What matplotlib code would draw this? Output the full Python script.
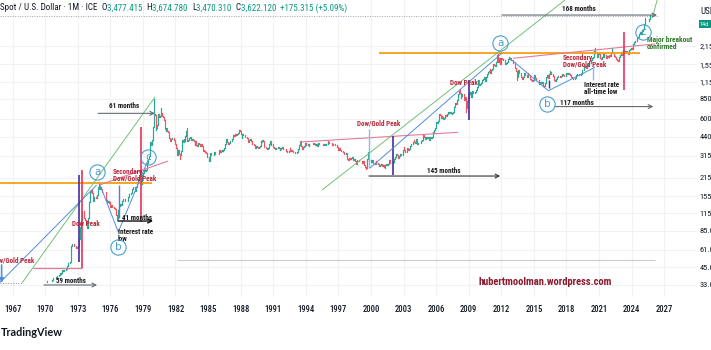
import numpy as np
import matplotlib
matplotlib.use("Agg")
import matplotlib.pyplot as plt
from matplotlib import font_manager
from matplotlib.ticker import NullLocator

# -----------------------------
# Daten: Gold Spot / USD, Monatsschluss (ab Jan 1970)
# -----------------------------
first_year = 1970
first_open = 35.0

closes_1970s = [
    34.9, 35.0, 35.1, 35.6, 35.5, 35.4, 35.3, 35.4, 36.2, 37.5, 37.4, 37.4,
    37.9, 38.7, 38.9, 39.0, 40.5, 40.1, 41.0, 42.7, 42.0, 42.5, 42.9, 43.6,
    46.0, 48.3, 48.3, 49.0, 56.5, 65.0, 67.0, 67.0, 65.5, 64.9, 62.9, 63.9,
    65.1, 74.2, 84.4, 90.5, 102.0, 120.0, 120.0, 106.8, 103.0, 100.1, 90.0, 106.7,
    139.3, 150.0, 168.4, 172.2, 163.3, 143.0, 154.1, 154.6, 151.8, 158.8, 181.8, 186.5,
    175.8, 181.8, 177.3, 167.0, 167.0, 166.3, 166.7, 144.5, 141.3, 142.9, 138.8, 140.3,
    128.2, 132.3, 129.6, 128.4, 125.9, 123.8, 112.5, 104.0, 117.0, 123.2, 130.3, 134.5,
    132.3, 142.8, 149.2, 148.0, 143.5, 143.0, 144.1, 146.0, 154.0, 162.0, 161.0, 164.9,
    175.8, 182.3, 181.6, 170.9, 184.0, 183.0, 200.3, 208.7, 217.1, 242.6, 193.4, 226.0,
    233.7, 251.3, 240.1, 245.3, 274.6, 277.5, 296.5, 315.1, 397.3, 382.0, 415.7, 524.0,
]
closes_1980s = [
    653.0, 637.0, 494.5, 514.0, 535.5, 653.0, 614.3, 631.3, 666.8, 629.0, 619.8, 589.8,
    506.5, 489.0, 513.8, 482.8, 479.7, 426.0, 406.0, 425.0, 428.8, 427.0, 414.5, 400.0,
    387.0, 362.6, 320.0, 350.3, 325.5, 317.5, 342.9, 411.5, 397.0, 423.3, 409.5, 448.0,
    481.0, 408.5, 414.8, 429.3, 437.5, 416.0, 422.0, 414.3, 405.0, 382.0, 405.0, 382.4,
    373.8, 394.3, 388.5, 373.0, 384.8, 373.8, 342.4, 348.3, 343.8, 333.5, 329.0, 309.0,
    306.7, 287.8, 329.8, 321.4, 316.3, 317.8, 326.9, 333.3, 326.0, 325.3, 325.3, 326.8,
    345.5, 338.8, 344.0, 345.8, 343.2, 345.5, 357.5, 384.7, 423.2, 401.0, 383.5, 390.9,
    405.5, 405.9, 421.2, 453.3, 451.0, 447.3, 462.5, 453.4, 459.5, 468.8, 492.5, 486.5,
    458.0, 426.2, 456.9, 451.4, 451.3, 436.6, 436.6, 430.0, 397.7, 412.4, 422.6, 410.2,
    394.0, 387.0, 383.2, 378.0, 362.6, 373.0, 368.3, 359.8, 366.5, 376.0, 407.8, 401.0,
]
closes_1990s = [
    415.1, 407.7, 368.5, 367.8, 363.1, 352.2, 362.5, 387.8, 408.4, 379.5, 384.9, 386.2,
    366.0, 362.7, 355.7, 357.8, 360.4, 368.4, 362.9, 347.4, 354.9, 357.5, 366.3, 353.2,
    354.1, 353.1, 341.7, 336.4, 337.5, 343.4, 357.8, 340.0, 349.0, 339.3, 334.2, 333.3,
    329.0, 327.6, 337.8, 354.3, 377.5, 378.0, 406.5, 371.6, 355.5, 369.6, 370.9, 391.8,
    377.9, 381.6, 389.2, 376.5, 387.6, 385.8, 384.0, 385.8, 394.9, 389.1, 383.1, 383.3,
    374.9, 376.4, 392.0, 389.8, 385.3, 387.1, 383.4, 382.4, 384.0, 382.7, 387.8, 387.0,
    405.6, 400.7, 396.4, 392.9, 390.6, 382.0, 385.3, 386.5, 379.0, 379.5, 371.3, 369.3,
    345.5, 358.6, 348.2, 340.2, 344.8, 334.6, 326.4, 325.4, 332.1, 311.4, 296.8, 290.2,
    304.9, 297.4, 301.0, 310.7, 293.6, 296.3, 288.9, 273.4, 293.9, 292.3, 294.7, 287.8,
    287.1, 287.3, 279.5, 286.6, 268.6, 261.0, 255.6, 254.8, 299.0, 299.1, 291.4, 290.3,
]
closes_2000s = [
    283.3, 293.7, 276.8, 275.1, 272.3, 288.2, 276.8, 277.0, 273.7, 264.5, 269.1, 274.5,
    265.6, 266.7, 257.7, 263.2, 267.5, 270.6, 265.9, 273.0, 293.1, 278.8, 275.5, 279.0,
    282.3, 296.9, 301.4, 308.2, 326.6, 318.5, 304.7, 312.8, 323.7, 316.9, 319.1, 347.2,
    367.5, 347.5, 334.9, 336.8, 361.4, 346.0, 354.8, 375.6, 388.0, 386.3, 398.4, 416.3,
    399.8, 395.9, 423.7, 388.5, 393.3, 395.8, 391.4, 407.3, 415.7, 425.6, 453.4, 438.0,
    422.2, 435.5, 427.5, 435.7, 414.5, 437.1, 429.0, 433.3, 473.3, 470.8, 495.7, 513.0,
    568.8, 556.0, 582.0, 654.5, 643.5, 613.5, 632.5, 623.5, 599.3, 603.8, 646.7, 632.0,
    650.5, 672.0, 661.8, 680.5, 659.1, 650.5, 665.5, 672.0, 743.0, 789.5, 783.5, 833.8,
    923.3, 971.5, 933.5, 865.0, 885.8, 930.3, 918.0, 833.0, 884.5, 730.8, 814.5, 869.8,
    919.5, 952.0, 916.5, 883.3, 975.5, 934.5, 939.0, 955.5, 995.8, 1040.0, 1175.8, 1087.5,
]
closes_2010s = [
    1078.5, 1109.0, 1115.5, 1180.0, 1207.5, 1244.0, 1169.0, 1246.0, 1307.5, 1346.8, 1383.5, 1421.4,
    1333.0, 1411.0, 1439.0, 1556.0, 1536.5, 1500.5, 1628.5, 1828.5, 1620.0, 1722.0, 1746.0, 1565.8,
    1737.0, 1711.0, 1668.0, 1663.0, 1559.0, 1598.5, 1622.0, 1691.0, 1772.0, 1719.0, 1726.0, 1675.4,
    1664.0, 1578.5, 1595.7, 1467.3, 1392.6, 1234.6, 1314.5, 1394.8, 1327.0, 1324.0, 1253.0, 1201.6,
    1240.1, 1326.5, 1283.8, 1296.0, 1250.5, 1327.3, 1282.8, 1287.0, 1210.5, 1171.6, 1167.4, 1184.9,
    1283.3, 1212.8, 1183.2, 1183.0, 1190.5, 1172.3, 1094.6, 1133.5, 1115.3, 1142.3, 1064.5, 1061.4,
    1116.4, 1237.9, 1234.2, 1292.8, 1214.6, 1321.6, 1350.6, 1308.4, 1315.8, 1276.7, 1172.9, 1151.7,
    1210.7, 1248.5, 1249.0, 1268.3, 1268.5, 1241.6, 1269.4, 1321.1, 1279.8, 1270.1, 1274.8, 1302.6,
    1345.2, 1318.3, 1325.5, 1315.3, 1298.7, 1252.6, 1224.0, 1201.4, 1192.5, 1214.6, 1222.0, 1281.7,
    1321.4, 1313.2, 1292.4, 1283.7, 1305.4, 1409.2, 1413.4, 1520.3, 1472.5, 1513.0, 1463.6, 1517.3,
]
closes_2020s = [
    1589.2, 1585.7, 1577.2, 1686.4, 1730.3, 1768.1, 1975.9, 1967.9, 1886.9, 1879.3, 1776.9, 1898.4,
    1847.7, 1734.0, 1707.7, 1769.1, 1907.0, 1770.1, 1814.2, 1813.6, 1742.8, 1783.4, 1774.5, 1829.2,
    1796.4, 1908.6, 1937.4, 1896.8, 1837.1, 1807.3, 1765.9, 1711.0, 1660.6, 1633.4, 1768.5, 1824.0,
    1928.0, 1826.9, 1969.3, 1990.0, 1962.7, 1919.4, 1965.1, 1940.2, 1848.6, 1983.9, 2036.1, 2062.9,
    2039.5, 2044.3, 2229.9, 2286.3, 2327.0, 2326.7, 2447.6, 2503.4, 2634.6, 2743.9, 2653.1, 2624.5,
    2798.4, 2857.8, 3123.8, 3288.7, 3289.5, 3303.1, 3289.9, 3447.5, 3622.1,
]

# Dochten (Hoch/Tief) einzelner Monate
wick_months = ["1974-12", "1976-08", "1980-01", "1980-09", "1982-06", "1983-02",
               "1985-02", "1999-08", "1999-10", "2001-04", "2008-03", "2008-10",
               "2011-09", "2013-06", "2015-12", "2016-07", "2020-08", "2022-03",
               "2025-04", "2025-09"]
wick_prices = [197.5, 103.0, 850.0, 720.0, 297.0, 510.0,
               285.0, 252.0, 338.0, 255.0, 1011.0, 681.0,
               1921.0, 1180.0, 1046.0, 1375.0, 2075.0, 2070.0,
               3500.0, 3674.8]

price_ticks = [33, 45, 61, 85, 115, 155, 215, 315, 440, 600, 850, 1150, 1550, 2150]
year_ticks = list(range(1967, 2028, 3))
header_ohlc = ["3,477.415", "3,674.780", "3,470.310", "3,622.120"]
header_change = "+175.315 (+5.09%)"

# -----------------------------
# Schriften
# -----------------------------
names = {f.name for f in font_manager.fontManager.ttflist}
cands = ["Roboto Condensed", "DejaVu Sans Condensed", "Liberation Sans Narrow",
         "Liberation Sans"]
cond = next((c for c in cands if c in names), "DejaVu Sans")
plt.rcParams["font.family"] = [cond, "DejaVu Sans"]

UP, DOWN = "#22ab94", "#f7525f"
RED_TXT = "#b7283a"
RED_V = "#e8335a"
PURPLE = "#4a2c9c"
BLUE = "#4f8fdc"
LBLUE = "#8fb9ec"
GREEN_L = "#74c076"
PINK = "#e47a98"
ORANGE = "#f5a00f"
CIRC = "#4a9fd0"

W, H = 711, 350
fig = plt.figure(figsize=(W / 100, H / 100), dpi=100)
ax = fig.add_axes([0, 53 / H, 697 / W, 297 / H])

# -----------------------------
# Kerzen
# -----------------------------
closes = np.array(closes_1970s + closes_1980s + closes_1990s
                  + closes_2000s + closes_2010s + closes_2020s)
opens = np.r_[first_open, closes[:-1]]
t = first_year + np.arange(len(closes)) / 12.0
lo = np.minimum(opens, closes)
hi = np.maximum(opens, closes)
for m, p in zip(wick_months, wick_prices):
    y, mo = map(int, m.split("-"))
    i = (y - first_year) * 12 + mo - 1
    hi[i] = max(hi[i], p)
    lo[i] = min(lo[i], p)
cols = np.where(closes >= opens, UP, DOWN)
lc = ax.vlines(t, lo, hi, colors=cols, lw=0.85, zorder=3)
lc.set_capstyle("projecting")

# Kurslinie (aktueller Kurs)
ax.axhline(closes[-1], xmax=(2026.45 - 1965.84) / (2030.02 - 1965.84),
           color="#9aa4b0", lw=0.7, ls=(0, (1, 1.5)), zorder=2)

# -----------------------------
# Achsen
# -----------------------------
ax.set_yscale("log")
ax.set_xlim(1965.84, 2030.02)
ax.set_ylim(26.76, 4772)
ax.yaxis.set_minor_locator(NullLocator())
ax.set_yticks(price_ticks)
ax.set_yticklabels([f"{v:,.3f}" for v in price_ticks])
ax.yaxis.tick_right()
ax.set_xticks(year_ticks)
ax.set_xticklabels([str(y) for y in year_ticks])
ax.tick_params(axis="x", length=0, pad=6, labelsize=6.2, labelcolor="#131722")
ax.tick_params(axis="y", length=0, pad=2, labelsize=6.0, labelcolor="#131722")
for lab in ax.get_xticklabels():
    lab.set_fontweight("medium")
ax.grid(color="#f0f2f6", lw=0.8, zorder=0)
for s in ax.spines.values():
    s.set_visible(False)


def seg(pts, color, lw=0.7, ls="-", z=4):
    ax.plot([a for a, _ in pts], [b for _, b in pts], color=color, lw=lw, ls=ls,
            zorder=z, solid_capstyle="butt")


def arrow(t0, t1, p, color, lw=0.8):
    ax.annotate("", xy=(t1, p), xytext=(t0, p),
                arrowprops=dict(arrowstyle="->", color=color, lw=lw,
                                mutation_scale=7, shrinkA=0, shrinkB=0), zorder=5)


def txt(tt, p, s, color="#1a1a1a", ha="center", size=5.1, weight="bold"):
    ax.text(tt, p, s, color=color, ha=ha, va="center", fontsize=size,
            fontweight=weight, zorder=6)


def circ(tt, p, s):
    ax.plot(tt, p, marker="o", ms=11, mfc="none", mec=CIRC, mew=0.8, zorder=6)
    ax.text(tt, p, s, color=CIRC, ha="center", va="center", fontsize=7.5,
            family=["DejaVu Sans"], zorder=6)


# horizontale Widerstaende
seg([(1965.5, 195), (1979.85, 195)], ORANGE, lw=1.3)
seg([(2000.74, 1908), (2024.77, 1908)], ORANGE, lw=1.3)

# Links: 1966-1981
seg([(1965.84, 34.2), (1967.87, 34.2)], "#8a8f98", lw=0.7, ls=":")
seg([(1967.87, 34.2), (1980.11, 877)], GREEN_L)
seg([(1965.84, 34.5), (1974.74, 189)], BLUE)
seg([(1975.05, 189), (1976.73, 83.3), (1979.47, 292)], BLUE)
seg([(1975.05, 189.6), (1981.32, 287)], PINK, lw=0.8)
seg([(1968.88, 44.4), (1973.39, 44.4)], PINK, lw=0.9)
seg([(1973.39, 44.4), (1973.39, 245.6)], RED_V, lw=1.2)
seg([(1973.07, 49.3), (1973.07, 225)], PURPLE, lw=1.2)
seg([(1978.82, 99), (1978.82, 521)], RED_V, lw=1.2)
seg([(1976.8, 106), (1976.8, 189)], "#6a72d8", lw=1.0)
ax.annotate("", xy=(1965.99, 34.2), xytext=(1965.99, 46.8),
            arrowprops=dict(arrowstyle="-|>", color=BLUE, lw=1.2,
                            mutation_scale=6, shrinkA=0, shrinkB=0), zorder=5)
arrow(1969.89, 1974.78, 33.0, "#666b73")
arrow(1974.87, 1980.11, 660, "#666b73")
arrow(1976.71, 1979.94, 100.8, "#111111", lw=1.0)

txt(1965.01, 51, "Dow/Gold Peak", RED_TXT, ha="left")
txt(1973.76, 95.7, "Dow Peak", RED_TXT)
txt(1976.22, 237, "Secondary", RED_TXT, ha="left")
txt(1976.22, 211.6, "Dow/Gold Peak", RED_TXT, ha="left")
txt(1977.08, 106, "41 months", ha="left")
txt(1976.71, 82.5, "Interest rate", ha="left")
txt(1976.71, 73.5, "low", ha="left")
txt(1977.26, 754, "61 months")
txt(1972.39, 35.6, "59 months")
circ(1974.78, 237, "a")
circ(1976.71, 64, "b")
circ(1979.47, 308, "c")

# Mitte: 1993-2012
seg([(1993.46, 400), (2008.01, 474)], PINK, lw=0.8)
seg([(1999.82, 254), (1999.82, 502)], LBLUE, lw=1.0)
seg([(2002.0, 225), (2002.0, 447)], PURPLE, lw=1.2)
seg([(1995.49, 173), (2017.87, 4772)], GREEN_L)
seg([(1999.91, 254), (2012.07, 1891)], BLUE)
seg([(1982.14, 50.6), (2026.16, 50.6)], "#c9ccd2", lw=0.8)
arrow(1999.82, 2011.9, 221, "#333333")
txt(2000.74, 554, "Dow/Gold Peak", RED_TXT)
txt(2006.68, 242.7, "145 months")

# Rechts: 2008-2025
seg([(2012.96, 1676), (2016.33, 980), (2020.63, 1474)], BLUE)
seg([(2013.1, 1726), (2026.15, 2218)], PINK, lw=0.8)
seg([(2009.05, 588), (2009.05, 1181)], PURPLE, lw=1.2)
seg([(2023.3, 991), (2023.3, 2726)], RED_V, lw=1.2)
seg([(2020.45, 1181), (2020.45, 1546)], LBLUE, lw=1.0)
seg([(2016.39, 1028), (2016.39, 1181)], PURPLE, lw=1.0)
seg([(2025.9, 3490), (2026.35, 4772)], GREEN_L)
arrow(2016.94, 2026.0, 743, "#666b73")
arrow(2012.06, 2026.34, 3670, "#666b73")
txt(2008.57, 1115, "Dow Peak", RED_TXT)
txt(2017.68, 1726, "Secondary", RED_TXT, ha="left")
txt(2017.68, 1535, "Dow/Gold Peak", RED_TXT, ha="left")
txt(2019.62, 1090, "Interest rate", ha="left")
txt(2019.62, 955, "all-time low", ha="left")
txt(2017.4, 786, "117 months", ha="left")
txt(2019.15, 4089, "168 months")
txt(2025.42, 2370, "Major breakout", "#2f7a2a", ha="left", size=5.4)
txt(2025.42, 2095, "confirmed", "#2f7a2a", ha="left", size=5.4)
circ(2011.9, 2240, "a")
circ(2016.21, 776, "b")
circ(2025.05, 2750, "c")

txt(2016.03, 34.6, "hubertmoolman.wordpress.com", "#8b1a2e", size=7.6)

# -----------------------------
# Kopfzeile, Preisachse, Logo
# -----------------------------
hy = 1 - 8 / H
renderer = fig.canvas.get_renderer()
pieces = [("Spot / U.S. Dollar \u00b7 1M \u00b7 ICE  ", "#131722")]
for lab, val in zip("OHLC", header_ohlc):
    pieces += [(lab, "#131722"), (val + "  ", "#089981")]
pieces.append((header_change, "#089981"))
xpos = 0.0
for s, c in pieces:
    tx = fig.text(xpos / W, hy, s, fontsize=6.5, color=c, va="center")
    xpos += tx.get_window_extent(renderer).width

fig.text(700 / W, 1 - 12 / H, "USD", fontsize=6.5, color="#131722", va="center")
fig.text(700 / W, 1 - 24 / H, "14d", fontsize=4.5, color="white", va="center",
         bbox=dict(fc="#089981", ec="none", pad=1.0))

fig.text(1 / W, 1 - 333 / H, "TradingView", fontsize=7.8, fontweight="bold",
         family=["Lato", "DejaVu Sans"], color="#131722", va="center")

fig.savefig("out.png", dpi=100)
